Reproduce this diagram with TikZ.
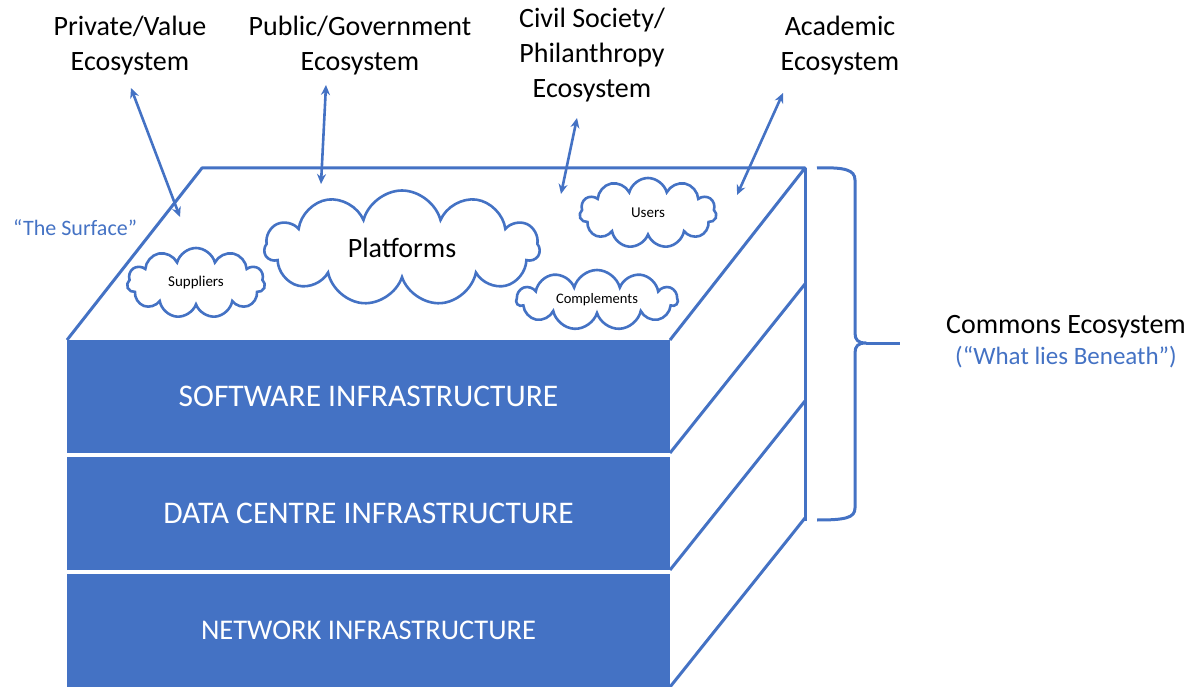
\documentclass[tikz,border=0pt]{standalone}
\usepackage{fontspec}
\setmainfont{Carlito}
\usetikzlibrary{shapes.symbols,arrows.meta,positioning}
\definecolor{ecoblue}{RGB}{68,114,196}
\begin{document}
\begin{tikzpicture}[x=1pt,y=-1pt,
        layer/.style = {fill=ecoblue, minimum width=603pt, minimum height=113pt, inner sep=0pt, outer sep=0pt, text=white, font=\fontsize{31.5}{36}\selectfont},
        edge/.style = {draw=ecoblue, line width=3pt, line join=round},
        puff/.style = {cloud, cloud puffs=11, cloud ignores aspect, draw=ecoblue, fill=white, line width=2.6pt, inner sep=0pt},
        eco/.style = {align=center, font=\fontsize{28}{35}\selectfont},
        link/.style = {draw=ecoblue, line width=2.6pt, {Stealth[length=10pt,width=9pt]}-{Stealth[length=10pt,width=9pt]}}]
    \useasboundingbox (0,0) rectangle (1192,687);
    % the three layers
    \node [layer] (sw) at (368.5,396.5) {SOFTWARE INFRASTRUCTURE};
    \node [layer] (dc) at (368.5,513.5) {DATA CENTRE INFRASTRUCTURE};
    \node [layer, font=\fontsize{28.5}{34}\selectfont] (net) at (368.5,630.5) {NETWORK INFRASTRUCTURE};
    % top face and side
    \coordinate (tl) at (202,168);
    \coordinate (tr) at (805,168);
    \coordinate (br) at (805,521);
    \draw [edge] (sw.north west) -- (tl) -- (tr) -- (sw.north east);
    \draw [edge] (tr) -- (br);
    \draw [edge] (sw.south east) -- ++(135,-169);
    \draw [edge] (dc.south east) -- ++(135,-169);
    \draw [edge] (net.south east) -- ++(135,-169);
    % clouds on the surface
    \node [puff, minimum width=275pt, minimum height=115pt, font=\fontsize{28}{34}\selectfont] (plat) at (402,248) {Platforms};
    \node [puff, minimum width=138pt, minimum height=70pt, font=\fontsize{15}{18}\selectfont] (supp) at (196,283) {Suppliers};
    \node [puff, minimum width=137pt, minimum height=70pt, font=\fontsize{15}{18}\selectfont] (users) at (648,213) {Users};
    \node [puff, minimum width=161pt, minimum height=60pt, font=\fontsize{14.5}{18}\selectfont] (comp) at (597,300) {Complements};
    \node [ecoblue, font=\fontsize{22}{26}\selectfont] (surf) at (75,228) {“The Surface”};
    % ecosystems above
    \node [eco] (priv) at (130,46) {Private/Value\\Ecosystem};
    \node [eco] (pub) at (360,46) {Public/Government\\Ecosystem};
    \node [eco] (civ) at (592,55) {Civil Society/\\Philanthropy\\Ecosystem};
    \node [eco] (acad) at (840,46) {Academic\\Ecosystem};
    \coordinate (privtop) at (131,88);  \coordinate (privend) at (180,217);
    \coordinate (pubtop) at (326,85);   \coordinate (pubend) at (321,184);
    \coordinate (civtop) at (577,118);  \coordinate (civend) at (561,194);
    \coordinate (acadtop) at (783,93);  \coordinate (acadend) at (737,195);
    \draw [link] (privtop) -- (privend);
    \draw [link] (pubtop) -- (pubend);
    \draw [link] (civtop) -- (civend);
    \draw [link] (acadtop) -- (acadend);
    % brace
    \coordinate (bracetip) at (866,343);
    \draw [edge] (817,168) .. controls (845,167) and (855,170) .. (855,180) -- (855,333)
        .. controls (855,340) and (858,343) .. (bracetip)
        .. controls (858,343) and (855,346) .. (855,353) -- (855,508)
        .. controls (855,518) and (845,520) .. (817,520);
    \draw [edge] (bracetip) -- (900,343);
    \node [font=\fontsize{28}{34}\selectfont] (commons) at (1066,327) {Commons Ecosystem};
    \node [ecoblue, font=\fontsize{25}{30}\selectfont, below=1pt of commons] (beneath) {(“What lies Beneath”)};
\end{tikzpicture}
\end{document}
